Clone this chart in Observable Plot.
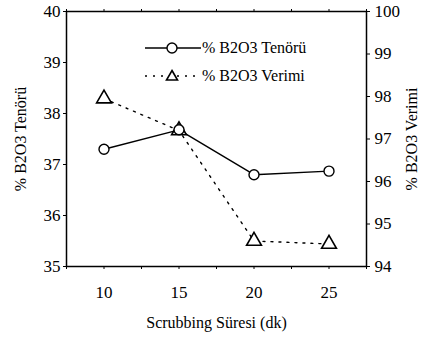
<!DOCTYPE html>
<html>
<head>
<meta charset="utf-8">
<script src="https://cdn.jsdelivr.net/npm/d3@7"></script>
<script src="https://cdn.jsdelivr.net/npm/@observablehq/plot@0.6"></script>
<style>
  body { margin: 0; background: #fff; }
  #wrap { position: relative; width: 428px; height: 339px; font-family: "Liberation Serif", "Times New Roman", serif; }
  #wrap svg, #wrap svg text { font-family: "Liberation Serif", "Times New Roman", serif !important; }
  #legend { position: absolute; left: 143px; top: 34px; font-size: 16px; color: #000; font-family: "Liberation Serif", serif; }
  #legend .row { display: flex; align-items: center; height: 28px; }
  #legend svg { display: block; }
</style>
</head>
<body>
<div id="wrap"></div>
<script>
const durations = [10, 15, 20, 25];
const tenor = [37.3, 37.68, 36.8, 36.87];      // left axis, %
const verim = [97.95, 97.2, 94.6, 94.53];      // right axis, %
const leftTicks = [35, 36, 37, 38, 39, 40];
const rightTicks = [94, 95, 96, 97, 98, 99, 100];
const xTicks = [10, 15, 20, 25];
const xMinorTicks = [7.5, 10, 12.5, 15, 17.5, 20, 22.5, 25, 27.5];
const seriesNames = ["% B2O3 Tenörü", "% B2O3 Verimi"];
const xTitle = "Scrubbing Süresi (dk)";

// map right-axis values (94..100) onto the left scale (35..40)
const toLeft = v => 35 + (v - 94) * 5 / 6;
const fromLeft = v => Math.round(94 + (v - 35) * 6 / 5);

const d1 = durations.map((x, i) => ({x, y: tenor[i]}));
const d2 = durations.map((x, i) => ({x, y: toLeft(verim[i])}));
const ff = "Liberation Serif";

const chart = Plot.plot({
  width: 428,
  height: 339,
  marginLeft: 66,
  marginRight: 62,
  marginTop: 11,
  marginBottom: 73,
  style: {fontFamily: "'Liberation Serif', serif", fontSize: "16px", color: "#000", background: "#fff"},
  x: {domain: [7.5, 27.5]},
  y: {domain: [35, 40]},
  marks: [
    Plot.frame({stroke: "#000", strokeWidth: 1.5}),
    Plot.axisX(xMinorTicks, {tickSize: 3, text: null, label: null, strokeWidth: 1}),
    Plot.axisX(xMinorTicks, {anchor: "top", tickSize: 3, text: null, label: null, strokeWidth: 1}),
    Plot.axisX(xTicks, {tickSize: 0, tickPadding: 19, fontSize: 17, fontFamily: ff, label: null, tickFormat: d => d}),
    Plot.axisY(leftTicks, {tickSize: 3, tickPadding: 3, fontSize: 17, fontFamily: ff, label: null, tickFormat: d => d}),
    Plot.axisY(rightTicks.map(toLeft), {anchor: "right", tickSize: 3, tickPadding: 5, fontSize: 17, fontFamily: ff, tickFormat: fromLeft, label: null}),
    Plot.text([seriesNames[0]], {frameAnchor: "left", textAnchor: "middle", rotate: -90, dx: -46, fontSize: 16, fontFamily: ff, text: d => d}),
    Plot.text([seriesNames[1]], {frameAnchor: "right", textAnchor: "middle", rotate: -90, dx: 45, fontSize: 16, fontFamily: ff, text: d => d}),
    Plot.text([xTitle], {frameAnchor: "bottom", dy: 61, fontSize: 16, fontFamily: ff, text: d => d}),
    Plot.line(d2, {x: "x", y: "y", stroke: "#000", strokeWidth: 1.4, strokeDasharray: "2,6"}),
    Plot.line(d1, {x: "x", y: "y", stroke: "#000", strokeWidth: 1.4}),
    Plot.dot(d2, {x: "x", y: "y", symbol: "triangle", r: 5.5, fill: "#fff", stroke: "#000", strokeWidth: 1.6}),
    Plot.dot(d1, {x: "x", y: "y", symbol: "circle", r: 5, fill: "#fff", stroke: "#000", strokeWidth: 1.4})
  ]
});
const wrap = document.getElementById("wrap");
wrap.appendChild(chart);

// legend (HTML overlay)
const leg = document.createElement("div");
leg.id = "legend";
const sym = (kind) => {
  const line = kind === 0
    ? '<line x1="2" y1="8" x2="58" y2="8" stroke="#000" stroke-width="1.4"/>'
    : '<line x1="2" y1="8" x2="58" y2="8" stroke="#000" stroke-width="1.4" stroke-dasharray="2,6"/>';
  const marker = kind === 0
    ? '<circle cx="29" cy="8" r="5" fill="#fff" stroke="#000" stroke-width="1.4"/>'
    : '<path d="M29,2.5 L34.5,12 L23.5,12 Z" fill="#fff" stroke="#000" stroke-width="1.6"/>';
  return `<svg width="59" height="16">${line}${marker}</svg>`;
};
seriesNames.forEach((name, i) => {
  const row = document.createElement("div");
  row.className = "row";
  row.innerHTML = sym(i) + `<span>${name}</span>`;
  leg.appendChild(row);
});
wrap.appendChild(leg);
</script>
</body>
</html>
